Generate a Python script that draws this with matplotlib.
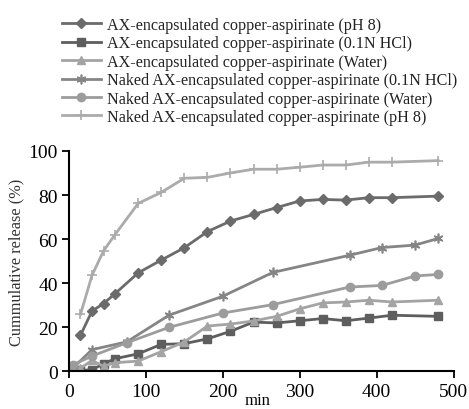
import numpy as np
import matplotlib.pyplot as plt

plt.rcParams['font.family'] = ['Liberation Serif', 'DejaVu Serif']

# time points (min)
t_ax = [15, 30, 45, 60, 90, 120, 150, 180, 210, 240, 270, 300, 330, 360, 390, 420, 480]
t_naked = [5, 30, 75, 130, 200, 265, 365, 407, 450, 480]

ax_ph8 = [16.4, 27.4, 30.8, 35.3, 44.7, 50.5, 56.1, 63.4, 68.2, 71.2, 74.3, 77.3, 78.0, 77.7, 78.8, 78.8, 79.5]
ax_hcl = [0.5, 0.8, 3.5, 5.8, 8.0, 12.3, 12.6, 14.8, 18.2, 22.4, 22.0, 23.0, 24.0, 23.0, 24.2, 25.5, 25.0]
ax_water = [1.5, 5.0, 2.4, 4.0, 4.7, 9.0, 13.4, 20.6, 21.5, 22.9, 25.0, 28.4, 31.1, 31.5, 32.3, 31.5, 32.3]
naked_ph8 = [25.9, 43.6, 54.7, 62.1, 76.2, 81.2, 87.6, 88.0, 90.0, 91.7, 91.7, 92.6, 93.6, 93.6, 94.9, 94.9, 95.6]
naked_hcl = [1.5, 9.9, 13.4, 25.5, 34.1, 44.9, 52.7, 56.2, 57.3, 60.3]
naked_water = [3.0, 7.0, 13.0, 20.0, 26.5, 30.3, 38.3, 39.0, 43.3, 44.0]

labels = ["AX-encapsulated copper-aspirinate (pH 8)",
          "AX-encapsulated copper-aspirinate (0.1N HCl)",
          "AX-encapsulated copper-aspirinate (Water)",
          "Naked AX-encapsulated copper-aspirinate (0.1N HCl)",
          "Naked AX-encapsulated copper-aspirinate (Water)",
          "Naked AX-encapsulated copper-aspirinate (pH 8)"]

fig = plt.figure(figsize=(4.69, 4.10), dpi=100)
ax = fig.add_axes([0.147, 0.0915, 0.82, 0.538])

lw = 2
ax.plot(t_ax, ax_ph8, color='#6b6b6b', lw=lw, marker='D', ms=5, label=labels[0])
ax.plot(t_ax, ax_hcl, color='#5e5e5e', lw=lw, marker='s', ms=6, label=labels[1])
ax.plot(t_ax, ax_water, color='#a4a4a4', lw=lw, marker='^', ms=6, label=labels[2])
ax.plot(t_naked, naked_hcl, color='#858585', lw=lw, marker=(6, 2, 0), ms=7, mew=1.2, label=labels[3])
ax.plot(t_naked, naked_water, color='#9c9c9c', lw=lw, marker='o', ms=6, label=labels[4])
ax.plot(t_ax, naked_ph8, color='#ababab', lw=lw, marker='+', ms=7, mew=1.2, label=labels[5])

ax.set_xlim(0, 500)
ax.set_ylim(0, 100)
ax.set_xticks(np.arange(0, 501, 100))
ax.set_yticks(np.arange(0, 101, 20))
ax.spines['top'].set_visible(False)
ax.spines['right'].set_visible(False)
ax.spines['left'].set_linewidth(1.5)
ax.spines['bottom'].set_linewidth(1.5)
ax.tick_params(direction='out', length=5, width=1.3, labelsize=14, pad=3)

ax.set_ylabel("Cummulative release (%)", fontsize=11.8, color='#333333', labelpad=3)
fig.text(258 / 469, 1 - 401 / 410, "min", fontsize=12, ha='center', va='center')

leg = ax.legend(loc='upper left', bbox_to_anchor=(62 / 469, 1 - 18 / 410),
                bbox_transform=fig.transFigure, frameon=False, fontsize=11.6,
                borderpad=0, borderaxespad=0, handlelength=2.4,
                handletextpad=0.4, labelspacing=0.15)
for txt in leg.get_texts():
    txt.set_color('#222222')

plt.savefig("out.png", dpi=100)
